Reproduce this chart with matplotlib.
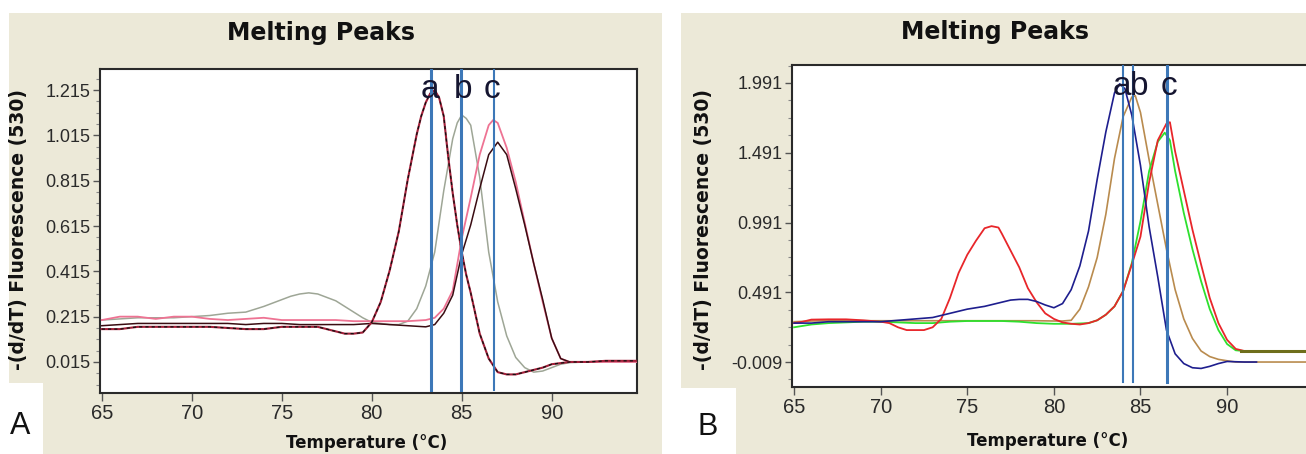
import matplotlib
matplotlib.use('Agg')
import matplotlib.pyplot as plt
from matplotlib.patches import Rectangle
from matplotlib.ticker import AutoMinorLocator

# ---------------- data ----------------
# Panel A
A_a_T = [65, 66, 67, 68, 69, 70, 71, 72, 73, 74, 75, 76, 77, 77.5, 78, 78.5, 79, 79.5, 80,
         80.5, 81, 81.5, 82, 82.5, 82.75, 83, 83.25, 83.5, 83.75, 84, 84.25, 84.5, 84.75, 85,
         85.25, 85.5, 86, 86.5, 87, 87.5, 88, 88.5, 89, 89.5, 90, 90.5, 91, 92, 93, 94.7]
A_a_V = [0.16, 0.16, 0.17, 0.17, 0.17, 0.17, 0.17, 0.165, 0.16, 0.16, 0.17, 0.17, 0.17, 0.16, 0.15, 0.14, 0.14, 0.145, 0.19,
         0.28, 0.42, 0.59, 0.82, 1.02, 1.10, 1.16, 1.20, 1.215, 1.18, 1.10, 0.92, 0.76, 0.62, 0.50,
         0.40, 0.32, 0.14, 0.03, -0.03, -0.04, -0.04, -0.03, -0.02, -0.01, 0.005, 0.01, 0.015, 0.015, 0.02, 0.02]

A_b_T = [65, 66, 67, 68, 69, 70, 71, 72, 73, 74, 75, 75.5, 76, 76.5, 77, 77.5, 78, 78.5, 79, 79.5, 80,
         80.5, 81, 81.5, 82, 82.5, 83, 83.5, 84, 84.5, 84.75, 85, 85.25, 85.5, 86, 86.5, 87, 87.5, 88,
         88.5, 89, 89.5, 90, 90.5, 91, 92, 94.7]
A_b_V = [0.20, 0.205, 0.21, 0.21, 0.21, 0.215, 0.22, 0.23, 0.235, 0.26, 0.29, 0.305, 0.315, 0.32, 0.315, 0.30, 0.285, 0.26, 0.235, 0.21, 0.19,
         0.185, 0.18, 0.18, 0.195, 0.25, 0.35, 0.50, 0.77, 1.00, 1.07, 1.105, 1.09, 1.06, 0.83, 0.50, 0.28, 0.13, 0.035,
         -0.01, -0.03, -0.025, -0.01, 0.005, 0.012, 0.015, 0.015]

A_cp_T = [65, 66, 67, 68, 69, 70, 71, 72, 73, 74, 75, 76, 77, 78, 79, 80, 81, 82, 83, 83.5, 84, 84.5, 85, 85.5,
          86, 86.5, 86.75, 87, 87.5, 88, 88.5, 89, 89.5, 90, 90.5, 91, 92, 93, 94.7]
A_cp_V = [0.20, 0.215, 0.215, 0.205, 0.215, 0.215, 0.205, 0.20, 0.205, 0.21, 0.20, 0.20, 0.20, 0.20, 0.195, 0.195, 0.195, 0.195, 0.20, 0.21, 0.25, 0.33, 0.56, 0.74,
          0.93, 1.06, 1.083, 1.07, 0.96, 0.81, 0.63, 0.45, 0.28, 0.12, 0.03, 0.015, 0.015, 0.015, 0.015]

A_ck_T = [65, 66, 67, 68, 69, 70, 71, 72, 73, 74, 75, 76, 77, 78, 79, 80, 81, 82, 83, 83.5, 84, 84.5, 85, 85.5,
          86, 86.5, 87, 87.5, 88, 88.5, 89, 89.5, 90, 90.5, 91]
A_ck_V = [0.175, 0.18, 0.185, 0.185, 0.185, 0.185, 0.185, 0.185, 0.18, 0.185, 0.185, 0.18, 0.18, 0.18, 0.18, 0.185, 0.18, 0.175, 0.17, 0.18, 0.23, 0.31, 0.49, 0.62,
          0.78, 0.93, 0.985, 0.93, 0.78, 0.62, 0.45, 0.29, 0.12, 0.03, 0.015]

A_marks = [83.3, 84.95, 86.8]
A_mark_names = ['a', 'b', 'c']
A_name_T = [83.25, 85.05, 86.7]
A_yticks = [0.015, 0.215, 0.415, 0.615, 0.815, 1.015, 1.215]

# Panel B
B_blue_T = [65, 66, 67, 68, 69, 70, 71, 72, 73, 74, 75, 76, 77, 77.5, 78, 78.5, 79, 79.5, 80,
            80.5, 81, 81.5, 82, 82.5, 83, 83.5, 83.8, 84.1, 84.5, 85, 85.5, 86, 86.5, 87,
            87.5, 88, 88.5, 89, 89.5, 90, 91, 91.7]
B_blue_V = [0.27, 0.27, 0.28, 0.28, 0.28, 0.28, 0.29, 0.30, 0.31, 0.34, 0.37, 0.39, 0.42, 0.435, 0.44, 0.44, 0.425, 0.40, 0.38,
            0.41, 0.51, 0.68, 0.93, 1.30, 1.64, 1.92, 1.985, 1.95, 1.76, 1.40, 0.96, 0.60, 0.22, 0.05,
            -0.02, -0.05, -0.055, -0.04, -0.02, -0.005, -0.009, -0.009]

B_tan_T = [65, 66, 67, 68, 69, 70, 71, 72, 73, 74, 75, 76, 77, 78, 79, 80,
           80.5, 81, 81.5, 82, 82.5, 83, 83.5, 84, 84.5, 84.7,
           85, 85.5, 86, 86.5, 87, 87.5, 88, 88.5, 89, 89.5, 90, 90.5, 92, 94.7]
B_tan_V = [0.28, 0.285, 0.287, 0.287, 0.287, 0.287, 0.287, 0.287, 0.287, 0.287, 0.287, 0.287, 0.287, 0.287, 0.287, 0.285,
           0.285, 0.29, 0.37, 0.53, 0.74, 1.05, 1.45, 1.75, 1.89, 1.90,
           1.78, 1.44, 1.12, 0.80, 0.51, 0.30, 0.16, 0.07, 0.03, 0.01, 0.0, -0.009, -0.009, -0.009]

B_red_T = [65, 65.5, 66, 67, 68, 69, 70, 70.5, 71, 71.5, 72, 72.5, 73, 73.5, 74, 74.5, 75, 75.5, 76, 76.4,
           76.8, 77, 77.5, 78, 78.5, 79, 79.5, 80, 80.5, 81, 81.5, 82, 82.5, 83, 83.5, 84, 84.5, 85, 85.5, 86,
           86.5, 86.7, 87, 87.5, 88, 88.5, 89, 89.5, 90, 90.5, 91, 94.7]
B_red_V = [0.27, 0.28, 0.295, 0.297, 0.297, 0.29, 0.28, 0.27, 0.24, 0.22, 0.22, 0.22, 0.24, 0.30, 0.45, 0.63, 0.76, 0.86, 0.95, 0.965,
           0.955, 0.91, 0.79, 0.67, 0.52, 0.42, 0.34, 0.30, 0.275, 0.265, 0.26, 0.27, 0.29, 0.33, 0.39, 0.50, 0.69, 0.89, 1.28, 1.58,
           1.70, 1.71, 1.50, 1.22, 0.94, 0.69, 0.45, 0.27, 0.15, 0.085, 0.07, 0.07]

B_green_T = [65, 66, 67, 68, 69, 70, 71, 72, 73, 74, 75, 76, 77, 78, 79, 80, 81, 82,
             82.5, 83, 83.5, 84, 84.5, 85, 85.5, 86, 86.4, 86.7, 87, 87.5, 88, 88.5, 89, 89.5, 90, 90.5, 91, 94.7]
B_green_V = [0.24, 0.26, 0.27, 0.275, 0.28, 0.28, 0.275, 0.27, 0.27, 0.28, 0.285, 0.285, 0.285, 0.28, 0.27, 0.265, 0.265, 0.27,
             0.29, 0.33, 0.39, 0.50, 0.70, 1.00, 1.36, 1.57, 1.635, 1.58, 1.36, 1.06, 0.80, 0.57, 0.37, 0.22, 0.12, 0.075, 0.07, 0.07]

B_olive_T = [90.8, 94.5]
B_olive_V = [0.07, 0.07]

B_marks = [84.0, 84.55, 86.55]
B_mark_names = ['a', 'b', 'c']
B_name_T = [83.9, 84.92, 86.65]
B_yticks = [-0.009, 0.491, 0.991, 1.491, 1.991]

x_ticks = [65, 70, 75, 80, 85, 90]

# ---------------- figure ----------------
W, H = 1306, 454
fig = plt.figure(figsize=(W / 100, H / 100), dpi=100)
fig.patch.set_facecolor('white')


def fx(px):
    return px / W


def fy(py):
    return 1 - py / H


beige = '#ECE9D8'
fig.add_artist(Rectangle((fx(9), 0), fx(662) - fx(9), fy(13), transform=fig.transFigure,
                         facecolor=beige, edgecolor='none', zorder=-10))
fig.add_artist(Rectangle((fx(681), 0), 1 - fx(681), fy(13), transform=fig.transFigure,
                         facecolor=beige, edgecolor='none', zorder=-10))
fig.add_artist(Rectangle((0, 0), fx(43), fy(383), transform=fig.transFigure,
                         facecolor='white', edgecolor='none', zorder=-9))
fig.add_artist(Rectangle((fx(681), 0), fx(736) - fx(681), fy(388), transform=fig.transFigure,
                         facecolor='white', edgecolor='none', zorder=-9))

axA = fig.add_axes([fx(100), fy(393), fx(637) - fx(100), fy(69) - fy(393)])
axB = fig.add_axes([fx(792), fy(387), fx(1309) - fx(792), fy(65) - fy(387)])

tick_font = ['Liberation Sans', 'DejaVu Sans']
label_font = ['DejaVu Sans']
letter_font = ['Liberation Sans Narrow', 'Liberation Sans', 'DejaVu Sans']

for ax in (axA, axB):
    ax.set_facecolor('white')
    for s in ax.spines.values():
        s.set_color('#2a2a2a')
        s.set_linewidth(1.5)
    ax.set_xticks(x_ticks)
    ax.set_xticklabels([str(t) for t in x_ticks], fontfamily=tick_font, fontsize=14.5, color='#2a2a2a')
    ax.tick_params(axis='x', direction='out', length=6, width=1, color='#555555', pad=2)
    ax.tick_params(axis='y', which='major', direction='out', length=5, width=1, color='#555555', pad=2)
    ax.tick_params(axis='y', which='minor', direction='out', length=3, width=0.8, color='#888888')
    ax.yaxis.set_minor_locator(AutoMinorLocator(4))

# ---- panel A
axA.set_xlim(64.9, 94.74)
axA.set_ylim(-0.122, 1.308)
axA.set_yticks(A_yticks)
axA.set_yticklabels(['%.3f' % v for v in A_yticks], fontfamily=tick_font, fontsize=13, color='#2a2a2a')

axA.plot(A_b_T, A_b_V, color='#9ea696', lw=1.1, zorder=3)
axA.plot(A_cp_T, A_cp_V, color='#ee7393', lw=1.3, zorder=3)
axA.plot(A_ck_T, A_ck_V, color='#3a0c12', lw=1.1, zorder=4)
axA.plot(A_a_T, A_a_V, color='#a3203a', lw=1.5, zorder=4)
axA.plot(A_a_T, A_a_V, color='#111111', lw=0.9, dashes=(2.5, 2.5), zorder=5)

for t, w in zip(A_marks, [2.2, 2.2, 1.5]):
    axA.axvline(t, ymin=0.01, ymax=1, color='#3d78b8', lw=w, zorder=6)
for t, n in zip(A_name_T, A_mark_names):
    axA.text(t, 1.18, n, ha='center', va='baseline', fontsize=24, fontfamily=letter_font,
             color='#151530', zorder=7)

# ---- panel B
axB.set_xlim(64.88, 94.73)
axB.set_ylim(-0.188, 2.120)
axB.set_yticks(B_yticks)
axB.set_yticklabels(['%.3f' % v for v in B_yticks], fontfamily=tick_font, fontsize=13, color='#2a2a2a')

axB.plot(B_tan_T, B_tan_V, color='#b98b4e', lw=1.2, zorder=3)
axB.plot(B_green_T, B_green_V, color='#2ee02e', lw=1.3, zorder=3)
axB.plot(B_red_T, B_red_V, color='#e8262a', lw=1.3, zorder=4)
axB.plot(B_blue_T, B_blue_V, color='#1e1e8e', lw=1.2, zorder=4)
axB.plot(B_olive_T, B_olive_V, color='#6e6e1c', lw=2.2, zorder=5)

for t, w in zip(B_marks, [1.5, 1.5, 2.2]):
    axB.axvline(t, ymin=0.015, ymax=1, color='#3d78b8', lw=w, zorder=6)
for t, n in zip(B_name_T, B_mark_names):
    axB.text(t, 1.905, n, ha='center', va='baseline', fontsize=24, fontfamily=letter_font,
             color='#151530', zorder=7)

# ---- texts
fig.text(fx(321), fy(33), 'Melting Peaks', ha='center', va='center', fontsize=17,
         fontweight='bold', fontfamily=label_font, color='#111111')
fig.text(fx(995), fy(32), 'Melting Peaks', ha='center', va='center', fontsize=17,
         fontweight='bold', fontfamily=label_font, color='#111111')
fig.text(fx(19), fy(230), '-(d/dT) Fluorescence (530)', rotation=90, ha='center', va='center',
         fontsize=13.5, fontweight='bold', fontfamily=label_font, color='#111111')
fig.text(fx(703), fy(230), '-(d/dT) Fluorescence (530)', rotation=90, ha='center', va='center',
         fontsize=13.5, fontweight='bold', fontfamily=label_font, color='#111111')
fig.text(fx(367), fy(452), 'Temperature (°C)', ha='center', va='bottom',
         fontsize=12, fontweight='bold', fontfamily=label_font, color='#111111')
fig.text(fx(1048), fy(441), 'Temperature (°C)', ha='center', va='center',
         fontsize=12, fontweight='bold', fontfamily=label_font, color='#111111')
fig.text(fx(20), fy(426), 'A', ha='center', va='center', fontsize=22,
         fontfamily=letter_font, color='#111111')
fig.text(fx(708), fy(427), 'B', ha='center', va='center', fontsize=22,
         fontfamily=letter_font, color='#111111')

fig.savefig('out.png', dpi=100, facecolor=fig.get_facecolor())
